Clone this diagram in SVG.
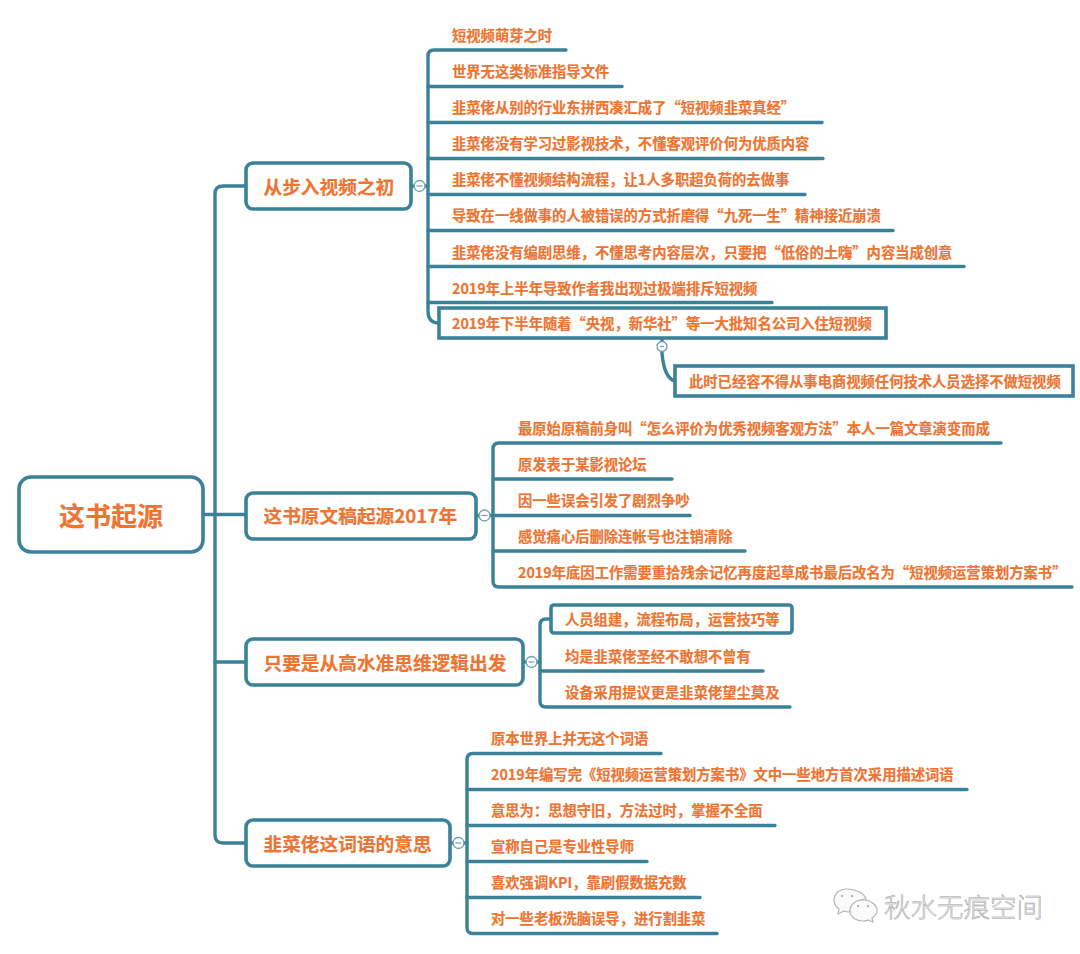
<svg xmlns="http://www.w3.org/2000/svg" width="1080" height="954" viewBox="0 0 1080 954">
<style>
text{font-family:"Noto Sans CJK SC","Noto Sans",sans-serif;font-weight:700;fill:#ED7431;stroke:#ED7431;stroke-width:.2;dominant-baseline:central}
.c{fill:none;stroke:#3A8299;stroke-width:3.4;stroke-linecap:round}
.box{fill:#fff;stroke:#3A8299;stroke-width:3.6}
.l{font-size:14.3px}
.t{font-size:18.7px}
.col{fill:#fff;stroke:#6E9FB0;stroke-width:1.3}
.m{stroke:#6E9FB0;stroke-width:1.2;fill:none}
.wm{font-size:26.5px;font-weight:300;fill:#f0f0f0;stroke:#9c9c9c;stroke-width:.5}
.ic{fill:#fbfbfb;stroke:#b5b5b5;stroke-width:1.2}
</style>
<g id="connectors" class="c">
<path d="M203 514.500H246"/>
<path d="M246 186H223Q215 186 215 194V835Q215 843 223 843H246"/>
<path d="M215 662Q215 662 223 662H246"/>
<path d="M411 186H428"/>
<path d="M566 50H434Q428 50 428 56V311Q428 323 439 323"/>
<path d="M428 86.500H622"/>
<path d="M428 122.500H822"/>
<path d="M428 158.500H823"/>
<path d="M428 194.500H805"/>
<path d="M428 230.500H893"/>
<path d="M428 266.500H964"/>
<path d="M428 302.500H772"/>
<path d="M662 338V353Q664 378 675 381"/>
<path d="M476 515.500H493"/>
<path d="M1001 443H499Q493 443 493 449V581Q493 587 499 587H1072"/>
<path d="M493 479H672"/>
<path d="M493 515.500H690"/>
<path d="M493 551H745"/>
<path d="M523 662H540"/>
<path d="M551 619H546Q540 619 540 625V701Q540 707 546 707H790"/>
<path d="M540 671H763"/>
<path d="M450 843H467"/>
<path d="M661 753.500H473Q467 753.500 467 759.500V927.500Q467 933.500 473 933.500H717"/>
<path d="M467 789.500H967"/>
<path d="M467 825.500H775"/>
<path d="M467 861.500H647"/>
<path d="M467 897.500H700"/>
</g>
<g id="root"><rect class="box" x="19" y="477" width="184" height="75" rx="12"/><text x="111" y="514" text-anchor="middle" style="font-size:26px">这书起源</text></g>
<g id="topic1"><rect class="box" x="246" y="163" width="165" height="46" rx="7"/><text class="t" x="263.500" y="185">从步入视频之初</text><circle class="col" cx="419.500" cy="186" r="5.500"/><path class="m" d="M416.500 186H422.500"/></g>
<g id="topic2"><rect class="box" x="246" y="493" width="230" height="46" rx="7"/><text class="t" x="263.500" y="514.500">这书原文稿起源2017年</text><circle class="col" cx="484.500" cy="515.500" r="5.500"/><path class="m" d="M481.500 515.500H487.500"/></g>
<g id="topic3"><rect class="box" x="246" y="639" width="277" height="46" rx="7"/><text class="t" x="263.500" y="661">只要是从高水准思维逻辑出发</text><circle class="col" cx="531.500" cy="662" r="5.500"/><path class="m" d="M528.500 662H534.500"/></g>
<g id="topic4"><rect class="box" x="246" y="820" width="204" height="46" rx="7"/><text class="t" x="263.500" y="842">韭菜佬这词语的意思</text><circle class="col" cx="458.500" cy="843" r="5.500"/><path class="m" d="M455.500 843H461.500"/></g>
<g id="n1-1"><text class="l" x="452" y="34.500">短视频萌芽之时</text></g>
<g id="n1-2"><text class="l" x="452" y="70.500">世界无这类标准指导文件</text></g>
<g id="n1-3"><text class="l" x="452" y="106.500">韭菜佬从别的行业东拼西凑汇成了“短视频韭菜真经”</text></g>
<g id="n1-4"><text class="l" x="452" y="142.500">韭菜佬没有学习过影视技术，不懂客观评价何为优质内容</text></g>
<g id="n1-5"><text class="l" x="452" y="178.500">韭菜佬不懂视频结构流程，让1人多职超负荷的去做事</text></g>
<g id="n1-6"><text class="l" x="452" y="214.500">导致在一线做事的人被错误的方式折磨得“九死一生”精神接近崩溃</text></g>
<g id="n1-7"><text class="l" x="452" y="251">韭菜佬没有编剧思维，不懂思考内容层次，只要把“低俗的土嗨”内容当成创意</text></g>
<g id="n1-8"><text class="l" x="452" y="287">2019年上半年导致作者我出现过极端排斥短视频</text></g>
<g id="n1-9"><rect class="box" x="439" y="308" width="447" height="30"/><text class="l" x="452" y="322.500">2019年下半年随着“央视，新华社”等一大批知名公司入住短视频</text><circle class="col" cx="662" cy="346.500" r="5"/><path class="m" d="M660 346.500H664"/></g>
<g id="n1-9-1"><rect class="box" x="675" y="366" width="398" height="30"/><text class="l" x="689" y="380.500">此时已经容不得从事电商视频任何技术人员选择不做短视频</text></g>
<g id="n2-1"><text class="l" x="518" y="427">最原始原稿前身叫“怎么评价为优秀视频客观方法”本人一篇文章演变而成</text></g>
<g id="n2-2"><text class="l" x="518" y="463">原发表于某影视论坛</text></g>
<g id="n2-3"><text class="l" x="518" y="499">因一些误会引发了剧烈争吵</text></g>
<g id="n2-4"><text class="l" x="518" y="535">感觉痛心后删除连帐号也注销清除</text></g>
<g id="n2-5"><text class="l" x="518" y="571">2019年底因工作需要重拾残余记忆再度起草成书最后改名为“短视频运营策划方案书”</text></g>
<g id="n3-1"><rect class="box" x="551" y="605" width="241" height="28" rx="3"/><text class="l" x="565" y="618.500">人员组建，流程布局，运营技巧等</text></g>
<g id="n3-2"><text class="l" x="565" y="655">均是韭菜佬圣经不敢想不曾有</text></g>
<g id="n3-3"><text class="l" x="565" y="691">设备采用提议更是韭菜佬望尘莫及</text></g>
<g id="n4-1"><text class="l" x="491" y="737.500">原本世界上并无这个词语</text></g>
<g id="n4-2"><text class="l" x="491" y="773.500">2019年编写完《短视频运营策划方案书》文中一些地方首次采用描述词语</text></g>
<g id="n4-3"><text class="l" x="491" y="809.500">意思为：思想守旧，方法过时，掌握不全面</text></g>
<g id="n4-4"><text class="l" x="491" y="845.500">宣称自己是专业性导师</text></g>
<g id="n4-5"><text class="l" x="491" y="881.500">喜欢强调KPI，靠刷假数据充数</text></g>
<g id="n4-6"><text class="l" x="491" y="917.500">对一些老板洗脑误导，进行割韭菜</text></g>
<g id="watermark">
<path class="ic" d="M847 889C839 889 834 894 834 900C834 904 836 907 839 909L838 914L844 911C846 912 848 912 850 912C851 904 858 899 866 899C864 893 856 889 847 889Z"/>
<path class="ic" d="M863 900C855 900 850 905 850 911C850 917 856 921 863 921C865 921 867 921 868 920L873 922L872 918C875 916 877 914 877 911C877 905 871 900 863 900Z"/>
<circle cx="842" cy="896" r="1.200" fill="#b5b5b5"/><circle cx="852" cy="896" r="1.200" fill="#b5b5b5"/>
<circle cx="858" cy="906" r="1.200" fill="#b5b5b5"/><circle cx="868" cy="906" r="1.200" fill="#b5b5b5"/>
<text class="wm" x="884" y="905.500">秋水无痕空间</text>
</g>
</svg>
